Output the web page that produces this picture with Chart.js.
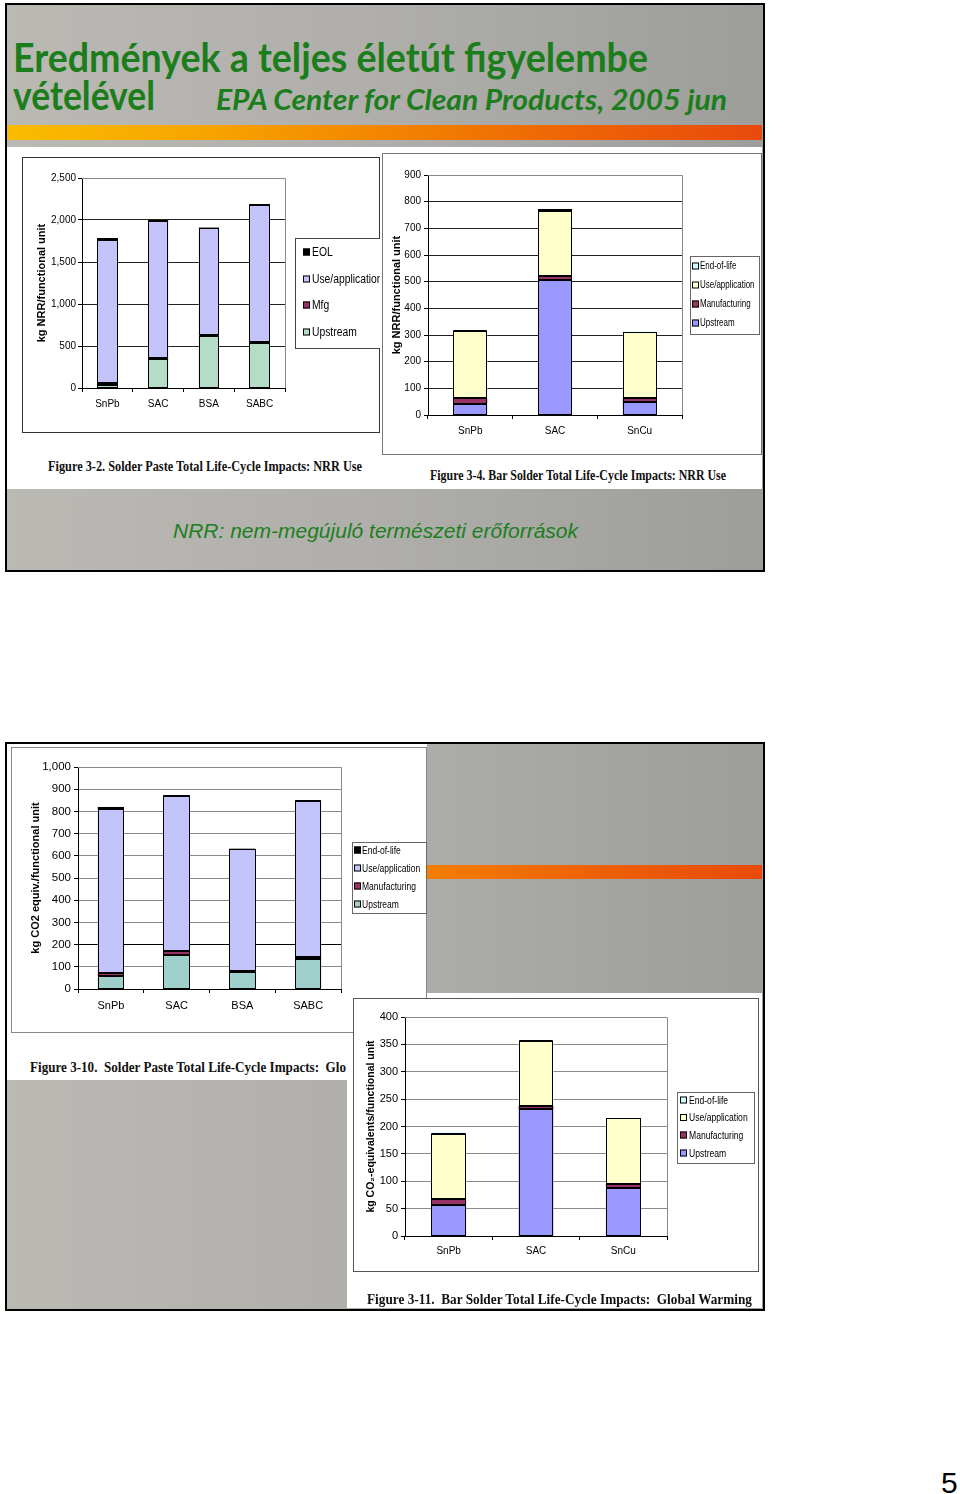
<!DOCTYPE html>
<html><head><meta charset="utf-8">
<script src="https://cdn.jsdelivr.net/npm/chart.js@4.4.0/dist/chart.umd.min.js"></script>
<style>
html,body{margin:0;padding:0;background:#fff;}
body{width:960px;height:1494px;position:relative;overflow:hidden;font-family:'Liberation Sans',Arial,sans-serif;}
.slide{position:absolute;box-sizing:border-box;border:2px solid #000;background:linear-gradient(90deg,#bab9b4 0%,#afaeaa 50%,#9d9d99 100%);}
.obar{position:absolute;background:linear-gradient(90deg,#f9bc00 0%,#f7a600 25%,#f38500 50%,#ee6406 75%,#e84a0c 100%);}
.white{position:absolute;background:#fff;}
.txt{position:absolute;white-space:nowrap;line-height:1;transform-origin:0 0;}
.ttl{font-family:Lato,'Open Sans',sans-serif;font-weight:700;color:#1b7d1b;}
.cap{font-family:'Liberation Serif','Times New Roman',serif;font-weight:700;color:#111;}
canvas{position:absolute;}
</style></head>
<body>
<!-- slide 1 -->
<div class="slide" style="left:5px;top:3px;width:760px;height:569px"></div>
<div class="obar" style="left:7px;top:125px;width:755px;height:15px"></div>
<div class="white" style="left:7px;top:147px;width:755px;height:342px"></div>
<div class="txt ttl" data-w="635" style="left:13px;top:36.5px;font-size:40px">Eredmények a teljes életút figyelembe</div>
<div class="txt ttl" data-w="142" style="left:13px;top:74.5px;font-size:40px">vételével</div>
<div class="txt ttl" data-w="511" style="left:216px;top:85px;font-size:28px;font-style:italic">EPA Center for Clean Products, 2005 jun</div>
<canvas id="c1" width="358" height="276" style="left:22px;top:157px"></canvas>
<canvas id="c2" width="380" height="302" style="left:382px;top:153px"></canvas>
<div class="txt cap" data-w="314" style="left:48px;top:460px;font-size:14px">Figure 3-2. Solder Paste Total Life-Cycle Impacts: NRR Use</div>
<div class="txt cap" data-w="296" style="left:430px;top:469px;font-size:14px">Figure 3-4. Bar Solder Total Life-Cycle Impacts: NRR Use</div>
<div class="txt" data-w="405" style="left:173px;top:521px;font-size:20px;font-style:italic;color:#1d7f1d">NRR: nem-megújuló természeti erőforrások</div>

<!-- slide 2 -->
<div class="slide" style="left:5px;top:742px;width:760px;height:569px"></div>
<div class="obar" style="left:7px;top:865px;width:755px;height:14px"></div>
<div class="white" style="left:7px;top:744px;width:420px;height:249px"></div>
<div class="white" style="left:7px;top:744px;width:340px;height:336px"></div>
<div class="white" style="left:347px;top:993px;width:415px;height:315px"></div>
<canvas id="c3" width="416" height="286" style="left:11px;top:747px"></canvas>
<canvas id="c4" width="406" height="274" style="left:353px;top:998px"></canvas>
<div class="txt cap" data-w="316" style="left:30px;top:1060px;font-size:15px">Figure 3-10.&nbsp; Solder Paste Total Life-Cycle Impacts:&nbsp; Glo</div>
<div class="txt cap" data-w="385" style="left:367px;top:1292px;font-size:15px">Figure 3-11.&nbsp; Bar Solder Total Life-Cycle Impacts:&nbsp; Global Warming</div>

<div class="txt" style="left:941px;top:1468px;font-size:30px;color:#000">5</div>

<script>
// ---- categories ----
const pasteCategories = ['SnPb', 'SAC', 'BSA', 'SABC'];
const barCategories = ['SnPb', 'SAC', 'SnCu'];

// ---- series labels ----
const pasteNrrLabels = ['Upstream', 'Mfg', 'Use/application', 'EOL'];
const lifeCycleLabels = ['Upstream', 'Manufacturing', 'Use/application', 'End-of-life'];

// ---- Figure 3-2: Solder paste, NRR (kg/functional unit) ----
const nrrPasteUpstream = [40, 345, 625, 530];
const nrrPasteMfg = [25, 15, 10, 12];
const nrrPasteUse = [1700, 1630, 1265, 1638];
const nrrPasteEol = [20, 10, 10, 10];
const nrrPasteTicks = [0, 500, 1000, 1500, 2000, 2500];

// ---- Figure 3-4: Bar solder, NRR ----
const nrrBarUpstream = [42, 508, 47];
const nrrBarMfg = [22, 12, 16];
const nrrBarUse = [250, 246, 247];
const nrrBarEol = [4, 5, 2];
const nrrBarTicks = [0, 100, 200, 300, 400, 500, 600, 700, 800, 900];

// ---- Figure 3-10: Solder paste, global warming (kg CO2 eq.) ----
const gwPasteUpstream = [58, 155, 75, 133];
const gwPasteMfg = [12, 17, 7, 12];
const gwPasteUse = [742, 697, 548, 703];
const gwPasteEol = [8, 3, 2, 2];
const gwPasteTicks = [0, 100, 200, 300, 400, 500, 600, 700, 800, 900, 1000];

// ---- Figure 3-11: Bar solder, global warming ----
const gwBarUpstream = [57, 232, 88];
const gwBarMfg = [10, 6, 7];
const gwBarUse = [120, 118, 120];
const gwBarEol = [2, 2, 1];
const gwBarTicks = [0, 50, 100, 150, 200, 250, 300, 350, 400];

// fit texts to measured widths
function fitTexts(){
  document.querySelectorAll('[data-w]').forEach(el=>{
    el.style.transform='none';
    const r=el.getBoundingClientRect().width;
    el.style.transform='scaleX('+(+el.dataset.w/r)+')';
  });
}
fitTexts();
if(document.fonts&&document.fonts.ready) document.fonts.ready.then(fitTexts);

const REG = "'Liberation Sans',Arial,sans-serif";

Chart.register({
  id:'frame',
  beforeDraw(chart,args,o){
    const c=chart.ctx;c.save();
    c.fillStyle='#fff';c.fillRect(0,0,chart.width,chart.height);
    c.strokeStyle=o.border||'#666';c.lineWidth=1;
    c.strokeRect(0.5,0.5,chart.width-1,chart.height-1);
    c.restore();
  },
  beforeDatasetsDraw(chart,args,o){
    const a=chart.chartArea,c=chart.ctx;c.save();
    c.strokeStyle=o.edge||'#888';c.lineWidth=1;
    c.beginPath();
    c.moveTo(a.left,Math.round(a.top)+0.5);c.lineTo(Math.round(a.right)+0.5,Math.round(a.top)+0.5);
    c.lineTo(Math.round(a.right)+0.5,a.bottom);
    c.stroke();c.restore();
  },
  afterDatasetsDraw(chart){
    // Excel-style black outline centred on every segment edge
    const c=chart.ctx;c.save();c.strokeStyle='#000';c.lineWidth=1;
    chart.data.datasets.forEach((d,i)=>{
      chart.getDatasetMeta(i).data.forEach(el=>{
        const p=el.getProps(['x','y','base','width'],true);
        const l=Math.round(p.x-p.width/2)+0.5, r=Math.round(p.x+p.width/2)-0.5;
        const t=Math.round(Math.min(p.y,p.base))+0.5, b=Math.round(Math.max(p.y,p.base))-0.5;
        c.strokeRect(l,t,r-l,Math.max(b-t,0));
      });
    });
    c.restore();
  },
  afterDraw(chart,args,o){
    const L=o.legend; if(!L) return;
    const c=chart.ctx;c.save();
    c.fillStyle='#fff';c.fillRect(L.x,L.y,L.w,L.h);
    c.strokeStyle=L.border||'#555';c.lineWidth=1;
    c.strokeRect(L.x+0.5,L.y+0.5,L.w,L.h);
    c.font=L.font;c.textBaseline='middle';c.textAlign='left';
    const ds=chart.data.datasets.slice().reverse();
    ds.forEach((d,i)=>{
      const y=L.rows[i];
      c.fillStyle=d.backgroundColor;
      c.fillRect(L.sx,y-L.s/2,L.s,L.s);
      c.strokeStyle='#000';
      c.strokeRect(L.sx+0.5,y-L.s/2+0.5,L.s-1,L.s-1);
      c.fillStyle='#000';
      c.save();c.translate(L.tx,y+0.5);c.scale(L.k,1);
      c.fillText(d.label,0,0);c.restore();
    });
    c.restore();
  }
});

function makeChart(id, cats, series, labels, colors, ticks, cfg){
  return new Chart(document.getElementById(id),{
    type:'bar',
    data:{labels:cats,datasets:series.map((d,i)=>({label:labels[i],data:d,backgroundColor:colors[i],borderWidth:0,inflateAmount:0,barPercentage:0.4,categoryPercentage:1}))},
    options:{
      responsive:false,animation:false,devicePixelRatio:1,
      layout:{padding:{left:0,top:cfg.top,right:cfg.right,bottom:0}},
      plugins:{legend:{display:false},tooltip:{enabled:false},
        frame:{border:cfg.frame,edge:cfg.edge,legend:cfg.legend}},
      scales:{
        x:{stacked:true,offset:true,
          grid:{display:true,drawOnChartArea:false,drawTicks:true,tickLength:4,color:'#000',offset:true},
          border:{display:true,color:'#000'},
          ticks:{color:'#000',font:cfg.xFont,padding:cfg.xPad,maxRotation:0,autoSkip:false},
          afterFit:s=>{s.height=cfg.xH;}},
        y:{stacked:true,min:ticks[0],max:ticks[ticks.length-1],
          afterBuildTicks:s=>{s.ticks=ticks.map(v=>({value:v}));},
          grid:{color:cfg.grid,tickColor:'#000',tickLength:4,drawTicks:true},
          border:{display:true,color:'#000'},
          ticks:{color:'#000',font:cfg.yFont,padding:cfg.yPad},
          title:{display:true,text:cfg.title,color:'#000',font:cfg.titleFont,padding:{top:cfg.titlePad,bottom:0}},
          afterFit:s=>{s.width=cfg.yW;}}
      }
    }
  });
}

// Figure 3-2
makeChart('c1',pasteCategories,[nrrPasteUpstream,nrrPasteMfg,nrrPasteUse,nrrPasteEol],pasteNrrLabels,
  ['#b5dcc6','#993366','#c4c4fa','#000000'],nrrPasteTicks,{
  top:21,right:95,yW:60,xH:45,frame:'#333',edge:'#888',grid:'#222',
  xFont:{family:REG,size:10},xPad:6,yFont:{family:REG,size:10},yPad:2,
  title:'kg NRR/functional unit',titleFont:{family:REG,size:11,weight:'bold'},titlePad:13,
  legend:{x:273,y:81,w:100,h:110,rows:[95,122,148,175],sx:281,s:7,tx:290,k:0.86,font:"12px "+REG,border:'#444'}
});
// Figure 3-4
makeChart('c2',barCategories,[nrrBarUpstream,nrrBarMfg,nrrBarUse,nrrBarEol],lifeCycleLabels,
  ['#9999ff','#993366','#ffffcc','#ccffff'],nrrBarTicks,{
  top:22,right:80,yW:46,xH:40,frame:'#777',edge:'#888',grid:'#222',
  xFont:{family:REG,size:10},xPad:6,yFont:{family:REG,size:10},yPad:3,
  title:'kg NRR/functional unit',titleFont:{family:REG,size:11,weight:'bold'},titlePad:8,
  legend:{x:308,y:103,w:69,h:78,rows:[113,132,151,170],sx:310,s:7,tx:318,k:0.76,font:"10.5px "+REG,border:'#666'}
});
// Figure 3-10
makeChart('c3',pasteCategories,[gwPasteUpstream,gwPasteMfg,gwPasteUse,gwPasteEol],lifeCycleLabels,
  ['#9fd0cc','#993366','#c4c4fc','#000000'],gwPasteTicks,{
  top:20,right:86,yW:67,xH:44,frame:'#888',edge:'#888',
  grid:(c)=>c.tick&&c.tick.value===200?'#000':'#8a8a8a',
  xFont:{family:REG,size:11},xPad:6,yFont:{family:REG,size:11.5},yPad:3,
  title:'kg CO2 equiv./functional unit',titleFont:{family:REG,size:11,weight:'bold'},titlePad:18,
  legend:{x:341,y:95,w:74,h:71,rows:[103,121,139,157],sx:343,s:7,tx:351,k:0.74,font:"11.5px "+REG,border:'#666'}
});
// Figure 3-11
makeChart('c4',barCategories,[gwBarUpstream,gwBarMfg,gwBarUse,gwBarEol],lifeCycleLabels,
  ['#9999ff','#993366','#ffffcc','#ccffff'],gwBarTicks,{
  top:19,right:92,yW:52,xH:36,frame:'#555',edge:'#888',grid:'#8a8a8a',
  xFont:{family:REG,size:10},xPad:5,yFont:{family:REG,size:11},yPad:3,
  title:'kg CO\u2082-equivalents/functional unit',titleFont:{family:REG,size:10.5,weight:'bold'},titlePad:12,
  legend:{x:324,y:94,w:77,h:71,rows:[102,119.5,137,155],sx:327,s:7,tx:336,k:0.78,font:"11px "+REG,border:'#666'}
});
</script>
</body></html>
